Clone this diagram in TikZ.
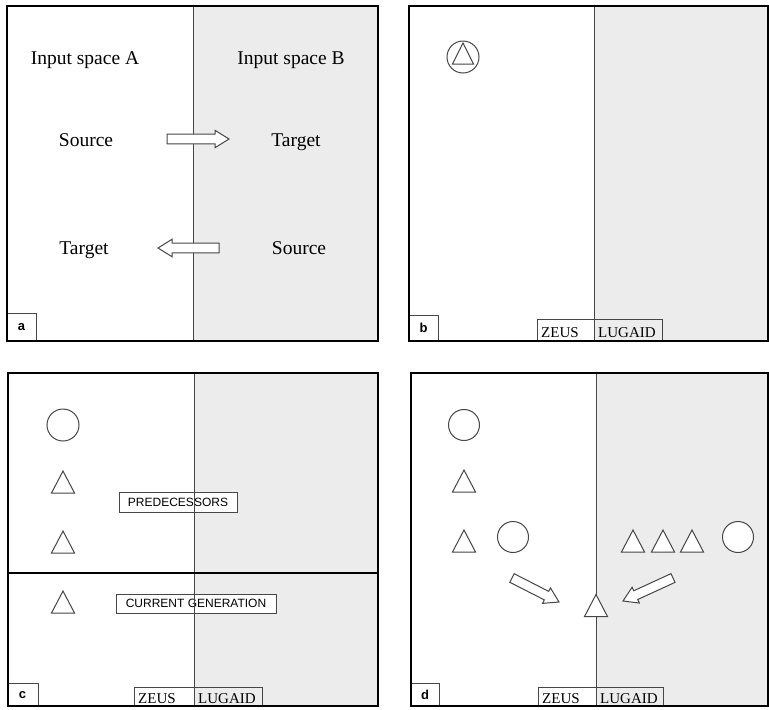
\documentclass[tikz,border=0pt]{standalone}
\usepackage{fontspec}
\setmainfont{Liberation Serif}
\setsansfont{Liberation Sans}
\usetikzlibrary{calc}
\definecolor{panelgray}{RGB}{236,236,236}
\definecolor{inkgray}{RGB}{70,70,70}
\tikzset{
  frame/.style={draw=black,line width=1.6pt},
  bottomedge/.style={draw=black,line width=2.4pt},
  divider/.style={draw=inkgray,line width=0.8pt},
  shapeline/.style={draw=inkgray,line width=1pt,fill=white},
  thinbox/.style={draw=inkgray,line width=0.8pt},
  bigtext/.style={font=\fontsize{19.5}{22}\selectfont,anchor=base,inner sep=0pt},
  nametext/.style={font=\fontsize{15}{17}\selectfont,anchor=base west,inner sep=0pt},
  tagtext/.style={font=\sffamily\bfseries\fontsize{13}{15}\selectfont,inner sep=0pt},
  capbox/.style={draw=inkgray,line width=0.9pt,fill=white,inner sep=0pt,
    font=\sffamily\fontsize{12}{14}\selectfont},
  blockarrow/.style={draw=inkgray,line width=1pt,fill=white,line join=miter},
  pics/tri/.style={code={\draw[shapeline] (0,-11.5) -- (11.5,10.5) -- (-11.5,10.5) -- cycle;}}
}
\newcommand{\blkarrow}[3]{%
  \coordinate (#3h) at ($(#2)!14pt!(#1)$);
  \draw[blockarrow] ($(#1)!4.8pt!90:(#2)$) -- ($(#3h)!4.8pt!90:(#2)$) -- ($(#3h)!8.7pt!90:(#2)$)
    -- (#2) -- ($(#3h)!8.7pt!-90:(#2)$) -- ($(#3h)!4.8pt!-90:(#2)$) -- ($(#1)!4.8pt!-90:(#2)$) -- cycle;}
\begin{document}
\begin{tikzpicture}[x=1pt,y=-1pt]
\useasboundingbox (0,0) rectangle (769,710);
\fill[white] (0,0) rectangle (769,710);

% ---------- panel a ----------
\fill[panelgray] (193,6) rectangle (378,341);
\draw[divider] (193,6) -- (193,341);
\node[bigtext] (ia) at (85,64) {Input space A};
\node[bigtext] (ib) at (291,64) {Input space B};
\node[bigtext] (sa) at (86,146) {Source};
\node[bigtext] (tb) at (296,146) {Target};
\node[bigtext] (ta) at (84,254) {Target};
\node[bigtext] (sb) at (299,254) {Source};
\coordinate (a1s) at (167,139); \coordinate (a1e) at (229,139);
\coordinate (a2s) at (219,248); \coordinate (a2e) at (158,248);
\blkarrow{a1s}{a1e}{ar1}
\blkarrow{a2s}{a2e}{ar2}
\draw[thinbox] (7,313) rectangle (36,341);
\node[tagtext] (la) at (21.5,327.5) {a};
\draw[frame] (7,6) rectangle (378,341);
\draw[bottomedge] (7,341) -- (378,341);

% ---------- panel b ----------
\fill[panelgray] (594,6) rectangle (768,341);
\draw[divider] (594,6) -- (594,341);
\draw[shapeline] (463,57) circle[radius=16pt];
\draw[shapeline] (463,43) -- (473.5,64) -- (452.5,64) -- cycle;
\draw[thinbox] (537,319) rectangle (662,341);
\node[nametext] (zb) at (541,337) {ZEUS};
\node[nametext] (lb) at (598,337) {LUGAID};
\draw[thinbox] (409,315) rectangle (438,341);
\node[tagtext] (lbb) at (423.5,328) {b};
\draw[frame] (409,6) rectangle (768,341);
\draw[bottomedge] (409,341) -- (768,341);

% ---------- panel c ----------
\fill[panelgray] (194,373) rectangle (378,706);
\node[capbox,minimum width=118pt,minimum height=20pt] (pred) at (178,502.5) {PREDECESSORS};
\node[capbox,minimum width=160pt,minimum height=19pt] (curr) at (196,603.5) {CURRENT GENERATION};
\draw[divider] (194,373) -- (194,706);
\draw[shapeline] (63,425) circle[radius=16pt];
\pic at (63,482.5) {tri};
\pic at (63,542.5) {tri};
\pic at (63,602.5) {tri};
\draw[line width=2.8pt] (8,573) -- (378,573);
\draw[thinbox] (134,687) rectangle (262,706);
\node[nametext] (zc) at (138,703) {ZEUS};
\node[nametext] (lc) at (198,703) {LUGAID};
\draw[thinbox] (8,683) rectangle (38,706);
\node[tagtext] (lcc) at (22.5,695) {c};
\draw[frame] (8,373) rectangle (378,706);
\draw[bottomedge] (8,706) -- (378,706);

% ---------- panel d ----------
\fill[panelgray] (596,373) rectangle (768,706);
\draw[divider] (596,373) -- (596,706);
\draw[shapeline] (464,425) circle[radius=15.5pt];
\pic at (464,481.5) {tri};
\pic at (464,541.5) {tri};
\draw[shapeline] (513,537) circle[radius=15.5pt];
\pic at (633,541.5) {tri};
\pic at (663,541.5) {tri};
\pic at (692,541.5) {tri};
\draw[shapeline] (738,537) circle[radius=15.5pt];
\pic at (596,606) {tri};
\coordinate (d1s) at (512,578); \coordinate (d1e) at (559,602);
\coordinate (d2s) at (673,578); \coordinate (d2e) at (623,601);
\blkarrow{d1s}{d1e}{dr1}
\blkarrow{d2s}{d2e}{dr2}
\draw[thinbox] (538,687) rectangle (663,706);
\node[nametext] (zd) at (542,703) {ZEUS};
\node[nametext] (ld) at (600,703) {LUGAID};
\draw[thinbox] (411,683) rectangle (439,706);
\node[tagtext] (ldd) at (425,695) {d};
\draw[frame] (411,373) rectangle (768,706);
\draw[bottomedge] (411,706) -- (768,706);
\end{tikzpicture}
\end{document}
